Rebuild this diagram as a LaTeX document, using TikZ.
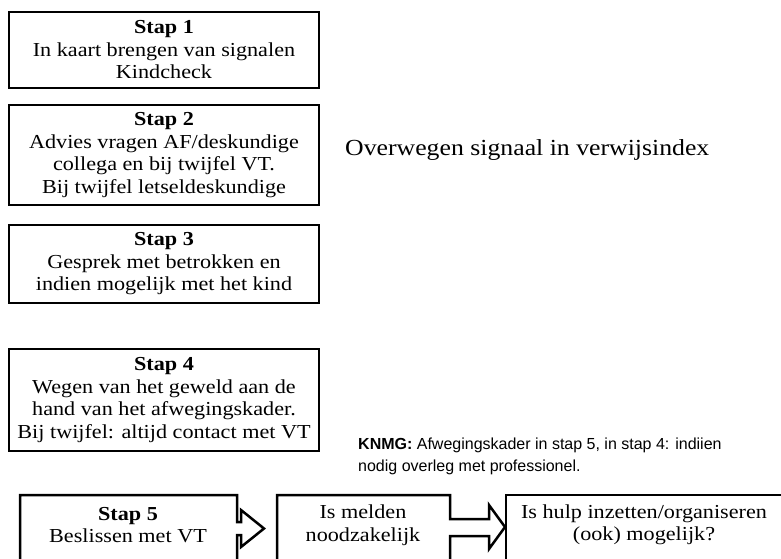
\documentclass[tikz,border=0pt]{standalone}
\usepackage{fontspec}
\setmainfont{Liberation Serif}[FakeStretch=1.12]
\newfontfamily\knmgfont{Liberation Sans}
\newcommand\boxfont{\fontsize{19.8}{22.5}\selectfont}
\tikzset{
  stepbox/.style={draw, line width=2.8pt, minimum width=310pt, inner sep=0pt, align=center, font=\boxfont},
  btext/.style={align=center, font=\boxfont, inner sep=0pt},
  outline/.style={line width=2.5pt, line join=miter},
}
\begin{document}
\begin{tikzpicture}[x=1pt,y=-1pt]
\useasboundingbox (0,0) rectangle (781,558);
\clip (0,0) rectangle (781,558);
\node[stepbox, minimum height=76pt] (s1) at (164,50) {\textbf{Stap 1}\\In kaart brengen van signalen\\Kindcheck};
\node[stepbox, minimum height=100pt] (s2) at (164,155) {\textbf{Stap 2}\\Advies vragen AF/deskundige\\collega en bij twijfel VT.\\Bij twijfel letseldeskundige};
\node[stepbox, minimum height=78pt] (s3) at (164,264) {\textbf{Stap 3}\\Gesprek met betrokken en\\indien mogelijk met het kind};
\node[stepbox, minimum height=102pt] (s4) at (164,400) {\textbf{Stap 4}\\Wegen van het geweld aan de\\hand van het afwegingskader.\\Bij twijfel: altijd contact met VT};
\node[anchor=west, inner sep=0pt, font=\fontsize{23}{26}\selectfont] (ov) at (345,150) {Overwegen signaal in verwijsindex};
\node[anchor=north west, align=left, inner sep=0pt, font=\knmgfont\fontsize{16}{22}\selectfont] (knmg) at (358,438) {\textbf{KNMG:} Afwegingskader in stap 5, in stap 4: indiien\\nodig overleg met professionel.};
% bottom row outlines with hollow arrows
\coordinate (a1) at (264,528.5);
\coordinate (a2) at (505,527);
\draw[outline] (20,600) -- (20,495) -- (237,495) -- (237,522) -- (241,522) -- (241,510) -- (a1) -- (241,547) -- (241,535) -- (237,535) -- (237,600);
\draw[outline] (277,600) -- (277,495) -- (450,495) -- (450,519) -- (489,519) -- (489,505) -- (a2) -- (489,549) -- (489,536) -- (450,536) -- (450,600);
\draw[outline] (506,600) -- (506,495) -- (800,495);
\node[btext] (t5) at (128,525) {\textbf{Stap 5}\\Beslissen met VT};
\node[btext] (tm) at (363,525) {Is melden\\noodzakelijk};
\node[btext] (th) at (644,525) {Is hulp inzetten/organiseren\\(ook) mogelijk?};
\end{tikzpicture}
\end{document}
